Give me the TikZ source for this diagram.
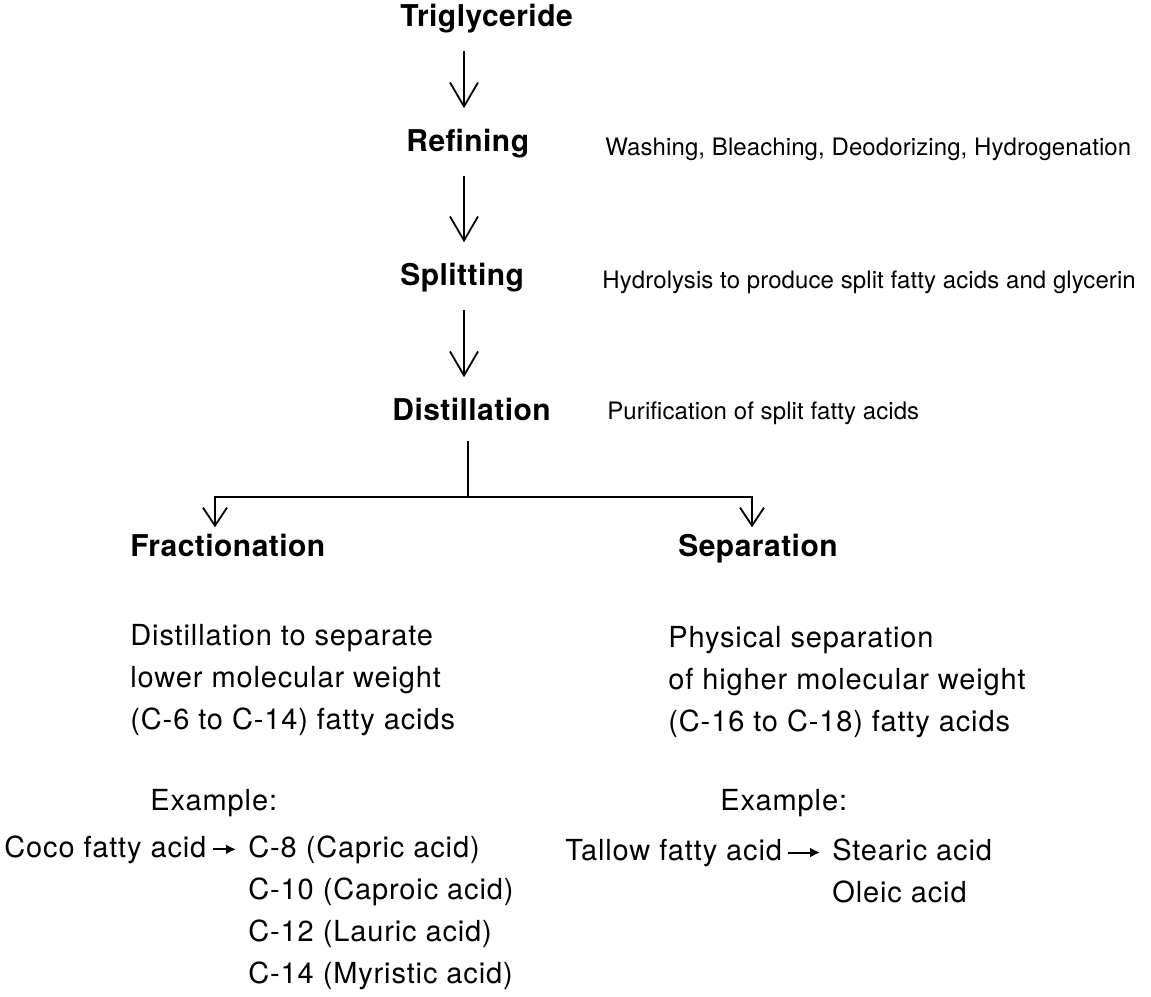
\documentclass[tikz,border=0pt]{standalone}
\usepackage{fontspec}
\setmainfont{TeX Gyre Heros}
\newfontfamily\stepfont[LetterSpace=1.5]{TeX Gyre Heros}
\newfontfamily\bodyfont[LetterSpace=3]{TeX Gyre Heros}
\newfontfamily\notefont[LetterSpace=0.4]{TeX Gyre Heros}
\usetikzlibrary{arrows.meta}

\begin{document}
\begin{tikzpicture}[x=0.5pt,y=-0.5pt,
		txt/.style={inner sep=0pt,anchor=base west},
		stepnode/.style={txt,font=\stepfont\bfseries\fontsize{15}{17}\selectfont},
		note/.style={txt,font=\notefont\fontsize{12}{14}\selectfont},
		body/.style={txt,font=\bodyfont\fontsize{14.5}{21}\selectfont},
		flow/.style={line width=0.9pt,-{Straight Barb[length=12pt,width=14pt]},shorten <=9pt,shorten >=10pt},
		branch/.style={line width=0.9pt,-{Straight Barb[length=9pt,width=12pt]},shorten >=3pt},
		yield/.style={line width=1pt,-{Latex[length=5pt,width=5pt]},shorten <=3pt,shorten >=6pt}]
		\useasboundingbox (0,0) rectangle (1151,996);
		\def\lineskip{42}
		% process steps
		\node[stepnode] (trig) at (400,26) {Triglyceride};
		\node[stepnode] (refin) at (406,151) {Refining};
		\node[stepnode] (split) at (400,285) {Splitting};
		\node[stepnode] (distil) at (392,420) {Distillation};
		\node[stepnode] (frac) at (130,556) {Fractionation};
		\node[stepnode] (sep) at (678,556) {Separation};
		% what each step does
		\node[note] (refinnote) at (605,155) {Washing, Bleaching, Deodorizing, Hydrogenation};
		\node[note] (splitnote) at (602,288) {Hydrolysis to produce split fatty acids and glycerin};
		\node[note] (distilnote) at (607,419) {Purification of split fatty acids};
		% main line
		\coordinate (spine) at (464,0);
		\draw[flow] (spine |- trig.south) -- (spine |- refin.north);
		\draw[flow] (spine |- refin.south) -- (spine |- split.north);
		\draw[flow] (spine |- split.south) -- (spine |- distil.north);
		% fork into the two branches
		\coordinate (fork) at (468,497);
		\coordinate (forkL) at (215,497);
		\coordinate (forkR) at (752,497);
		\draw[line width=0.9pt,shorten <=10pt] (fork |- distil.south) -- (fork);
		\draw[branch] (fork) -| (forkL |- frac.north);
		\draw[branch] (fork) -| (forkR |- sep.north);
		% branch descriptions
		\foreach \txt [count=\i from 0] in {Distillation to separate,lower molecular weight,(C-6 to C-14) fatty acids}
		\node[body] (fracdesc\i) at (130,645+\lineskip*\i) {\txt};
		\foreach \txt [count=\i from 0] in {Physical separation,of higher molecular weight,(C-16 to C-18) fatty acids}
		\node[body] (sepdesc\i) at (668,647+\lineskip*\i) {\txt};
		% examples
		\node[body] (fracex) at (150,810) {Example:};
		\node[body] (sepex) at (720,810) {Example:};
		\node[body] (coco) at (4,857) {Coco fatty acid};
		\foreach \txt [count=\i from 0] in {C-8 (Capric acid),C-10 (Caproic acid),C-12 (Lauric acid),C-14 (Myristic acid)}
		\node[body] (cocoacid\i) at (248,857+\lineskip*\i) {\txt};
		\node[body] (tallow) at (565,860) {Tallow fatty acid};
		\node[body] (tallowacid0) at (832,860) {Stearic acid};
		\node[body] (tallowacid1) at (832,902) {Oleic acid};
		\draw[yield] (coco.east) -- (coco.east -| cocoacid0.west);
		\draw[yield] (tallow.east) -- (tallow.east -| tallowacid0.west);
\end{tikzpicture}
\end{document}
